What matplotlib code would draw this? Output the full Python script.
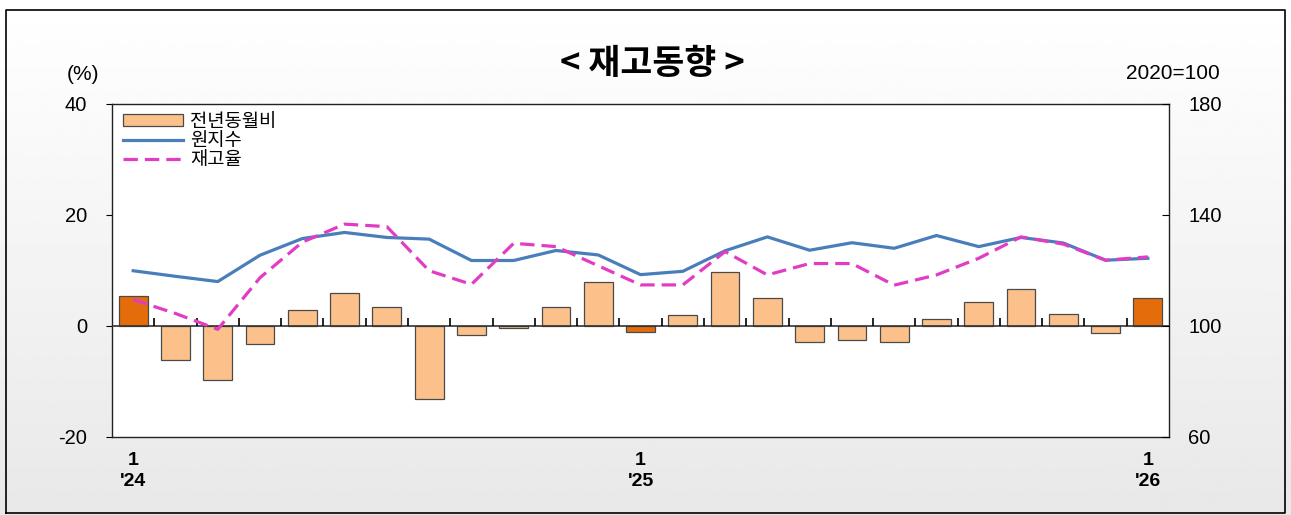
import numpy as np
import matplotlib
matplotlib.use('Agg')
import matplotlib.pyplot as plt
from matplotlib.patches import Patch
from matplotlib.lines import Line2D

plt.rcParams['font.family'] = ['Liberation Sans', 'Noto Sans CJK KR', 'DejaVu Sans']
plt.rcParams['axes.unicode_minus'] = False

# data (Jan 2024 ~ Jan 2026)
months = list(range(25))
yoy_pct = [5.4, -6.2, -9.7, -3.3, 2.9, 6.0, 3.5, -13.2, -1.7, -0.3, 3.5, 8.0,
           -1.1, 1.9, 9.8, 5.1, -2.9, -2.6, -2.9, 1.3, 4.4, 6.7, 2.2, -1.3, 5.1]
raw_index = [119.9, 117.9, 116.0, 125.5, 131.5, 133.7, 131.9, 131.3, 123.6, 123.6, 127.2, 125.6,
             118.5, 119.7, 127.1, 132.1, 127.3, 130.0, 128.0, 132.6, 128.6, 131.9, 129.9, 123.7, 124.4]
inv_ratio = [109.5, 104.5, 98.8, 117.4, 130.2, 136.7, 135.8, 119.9, 115.0, 129.8, 128.6, 121.7,
             114.8, 114.8, 126.8, 118.4, 122.5, 122.5, 114.7, 118.4, 124.4, 132.1, 129.5, 123.7, 124.9]
xtick_pos = [0, 12, 24]
xtick_labels = ["1\n'24", "1\n'25", "1\n'26"]

light = '#FCC08A'
dark = '#E46C0A'
blue = '#4A7EBB'
pink = '#E23CC4'
dash = (0, (4.5, 2.2))

fig = plt.figure(figsize=(12.91, 5.15), dpi=100)

# gray gradient background with frame
bg = fig.add_axes([0, 0, 1, 1], zorder=-10)
grad = np.linspace(1.0, 0.91, 256).reshape(-1, 1)
bg.imshow(grad, cmap='gray', vmin=0, vmax=1, aspect='auto', extent=[0, 1, 0, 1])
bg.plot([0.005, 0.995, 0.995, 0.005, 0.005], [0.003, 0.003, 0.98, 0.98, 0.003],
        color='black', lw=1.2)
bg.set_xlim(0, 1)
bg.set_ylim(0, 1)
bg.axis('off')

ax = fig.add_axes([0.0868, 0.1515, 0.8187, 0.6466])
ax.set_facecolor('white')
colors = [dark if m % 12 == 0 else light for m in months]
ax.bar(months, yoy_pct, width=0.68, color=colors, edgecolor='#4a4a4a', linewidth=0.9, zorder=3)
ax.axhline(0, color='#333333', lw=1.2, zorder=4)
# boundary ticks standing on the zero line
bounds = np.arange(0.5, 24, 1)
ax.vlines(bounds, 0, 1.4, color='black', lw=1.2, zorder=4)

ax.set_xlim(-0.5, 24.5)
ax.set_ylim(-20, 40)
ax.set_yticks([-20, 0, 20, 40])
ax.tick_params(axis='y', direction='out', length=4, pad=14, labelsize=14.5)
ax.set_xticks(xtick_pos)
ax.set_xticklabels(xtick_labels, fontweight='bold', fontsize=14, linespacing=1.25)
ax.tick_params(axis='x', length=0, pad=11)
for s in ax.spines.values():
    s.set_color('#222222')
    s.set_linewidth(1.0)

ax2 = ax.twinx()
ax2.plot(months, raw_index, color=blue, lw=2.3, zorder=5)
ax2.plot(months, inv_ratio, color=pink, lw=2.3, linestyle=dash, zorder=5)
ax2.set_ylim(60, 180)
ax2.set_yticks([60, 100, 140, 180])
ax2.tick_params(axis='y', direction='in', length=5, pad=14, labelsize=14.5)
for s in ax2.spines.values():
    s.set_visible(False)

handles = [Patch(facecolor=light, edgecolor='#4a4a4a', linewidth=0.9),
           Line2D([], [], color=blue, lw=2.3),
           Line2D([], [], color=pink, lw=2.3, linestyle=dash)]
ax2.legend(handles, ['전년동월비', '원지수', '재고율'], loc='upper left',
           bbox_to_anchor=(0.0, 1.005), frameon=False, fontsize=13.5,
           handlelength=3.2, handleheight=0.6, labelspacing=0.12,
           handletextpad=0.35, borderaxespad=0.2)

fig.text(0.505, 0.877, '< 재고동향 >', ha='center', va='center',
         fontsize=25, fontweight='bold', family=['Noto Sans CJK KR', 'DejaVu Sans'])
fig.text(0.052, 0.855, '(%)', ha='left', va='center', fontsize=15)
fig.text(0.945, 0.857, '2020=100', ha='right', va='center', fontsize=15)

fig.savefig('out.png', dpi=100)
